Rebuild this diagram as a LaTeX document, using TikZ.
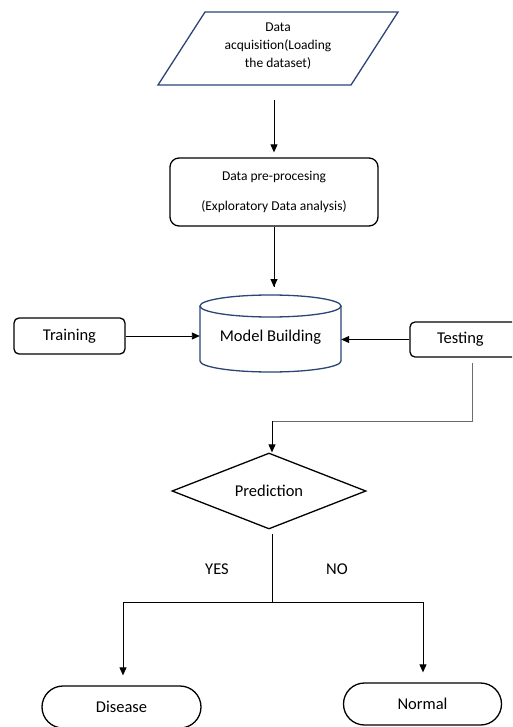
\documentclass[tikz,border=0pt]{standalone}
\usepackage{fontspec}
\setmainfont{Carlito}
\usetikzlibrary{shapes.geometric,arrows.meta}
\definecolor{navy}{HTML}{2B4575}
\tikzset{
  box/.style={draw=black, line width=1.3pt, rounded corners=5pt, inner sep=0pt},
  bigtxt/.style={font=\fontsize{16.5}{19}\selectfont},
  smalltxt/.style={font=\fontsize{13.5}{18}\selectfont},
  arr/.style={line width=0.9pt, -{Triangle[length=8pt,width=7pt]}},
  ln/.style={line width=0.9pt},
}
\begin{document}
\begin{tikzpicture}[x=1pt,y=1pt]
\clip (0,0) rectangle (512,-727);
\fill[white] (0,0) rectangle (512,-727);
% parallelogram
\draw[navy, line width=1.3pt] (205,-12) -- (398,-12) -- (351,-85) -- (158,-85) -- cycle;
\node[smalltxt, align=center, inner sep=0pt] (acq) at (278,-46) {Data\\acquisition(Loading\\the dataset)};
\coordinate (a1) at (274,-100);
% preprocessing
\node[box, rounded corners=9pt, minimum width=208pt, minimum height=68pt, smalltxt, align=center] (pre) at (274,-192) {Data pre-procesing\\[12pt](Exploratory Data analysis)};
% cylinder
\draw[navy, line width=1.3pt] (200,-306) -- (200,-361) arc[start angle=180, end angle=360, x radius=70.5pt, y radius=11pt] -- (341,-306);
\draw[navy, line width=1.3pt] (270.5,-306) ellipse [x radius=70.5pt, y radius=11pt];
\node[bigtxt, minimum width=141pt, minimum height=60pt, inner sep=0pt] (mb) at (270.5,-337) {Model Building};
\coordinate (a2) at (274,-287);
% training / testing
\node[box, minimum width=111pt, minimum height=36pt, bigtxt] (tr) at (69.5,-336) {Training};
\node[box, minimum width=124pt, minimum height=35pt, bigtxt, text width=110pt, align=left] (ts) at (472,-339.5) {\hspace*{20pt}\raisebox{-4pt}{Testing}};
% diamond
\node[draw, line width=1.3pt, diamond, aspect=2.55, minimum width=194pt, minimum height=76pt, inner sep=0pt, bigtxt] (pr) at (269,-491) {Prediction};
% outcomes
\node[box, rounded corners=21pt, minimum width=159pt, minimum height=42pt, bigtxt] (dis) at (121.5,-707) {\raisebox{-3pt}{Disease}};
\node[box, rounded corners=21pt, minimum width=158pt, minimum height=42pt, bigtxt] (nor) at (422.5,-704) {\raisebox{-2pt}{Normal}};
\node[bigtxt] (yes) at (217,-569) {YES};
\node[bigtxt] (no) at (337,-569) {NO};
% connectors
\draw[arr] (a1) -- ([yshift=5pt]pre.north -| a1);
\draw[ln] (pre.south -| a2) -- (a2);
\draw[arr] ([yshift=9pt]a2) -- (a2);
\draw[arr] (tr.east) -- (tr.east -| mb.west);
\draw[arr] (ts.west) -- (ts.west -| mb.east);
\coordinate (g1) at (472,-363);
\coordinate (g2) at (472,-421);
\coordinate (g3) at (272,-421);
\draw[gray!85!black, line width=0.9pt] (g1) -- (g2) -- (g3);
\draw[arr] (g3) -- (g3 |- pr.north);
\coordinate (b0) at (272,-534);
\coordinate (b1) at (272,-602);
\coordinate (bl) at (123,-602);
\coordinate (br) at (423,-602);
\draw[ln] (b0) -- (b1);
\draw[ln] (bl) -- (br);
\draw[arr] (bl) -- ([yshift=10pt]dis.north -| bl);
\draw[arr] (br) -- ([yshift=10pt]nor.north -| br);
\end{tikzpicture}
\end{document}
